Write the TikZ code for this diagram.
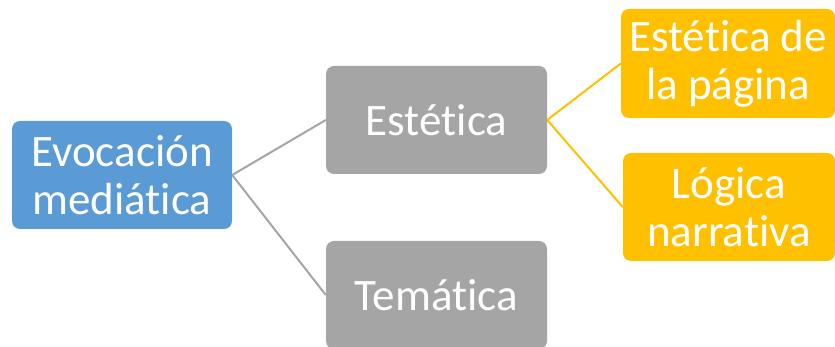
\documentclass[tikz,border=0pt]{standalone}
\usepackage{fontspec}
\setmainfont[Ligatures=NoCommon]{Carlito}
\definecolor{boxblue}{HTML}{5B9BD5}
\definecolor{boxgray}{HTML}{A5A5A5}
\definecolor{boxorange}{HTML}{FFC000}

\begin{document}
\begin{tikzpicture}[x=1pt,y=1pt,
        box/.style={rounded corners=8pt, text=white, align=center, inner sep=0pt,
            font=\fontsize{45}{48}\selectfont},
        link/.style={line width=2pt}]
        \useasboundingbox (0,0) rectangle (835,347);

        % Root
        \node (Evocacion) at (122,172) [box, fill=boxblue, minimum width=220, minimum height=108] {Evocación\\mediática};

        % Second level
        \node (Estetica) at (436.5,227) [box, fill=boxgray, minimum width=221, minimum height=108] {Estética};
        \node (Tematica) at (436.5,52) [box, fill=boxgray, minimum width=221, minimum height=108] {Temática};

        % Third level
        \node (Pagina) at (728,283.5) [box, fill=boxorange, minimum width=214, minimum height=109] {Estética de\\la página};
        \node (Narrativa) at (729,140) [box, fill=boxorange, minimum width=212, minimum height=108] {Lógica\\narrativa};

        % Connectors
        \draw [link, boxgray] (Evocacion.east) -- (Estetica.west);
        \draw [link, boxgray] (Evocacion.east) -- (Tematica.west);

        \draw [link, boxorange] (Estetica.east) -- (Pagina.west);
        \draw [link, boxorange] (Estetica.east) -- (Narrativa.west);

    \end{tikzpicture}
\end{document}
